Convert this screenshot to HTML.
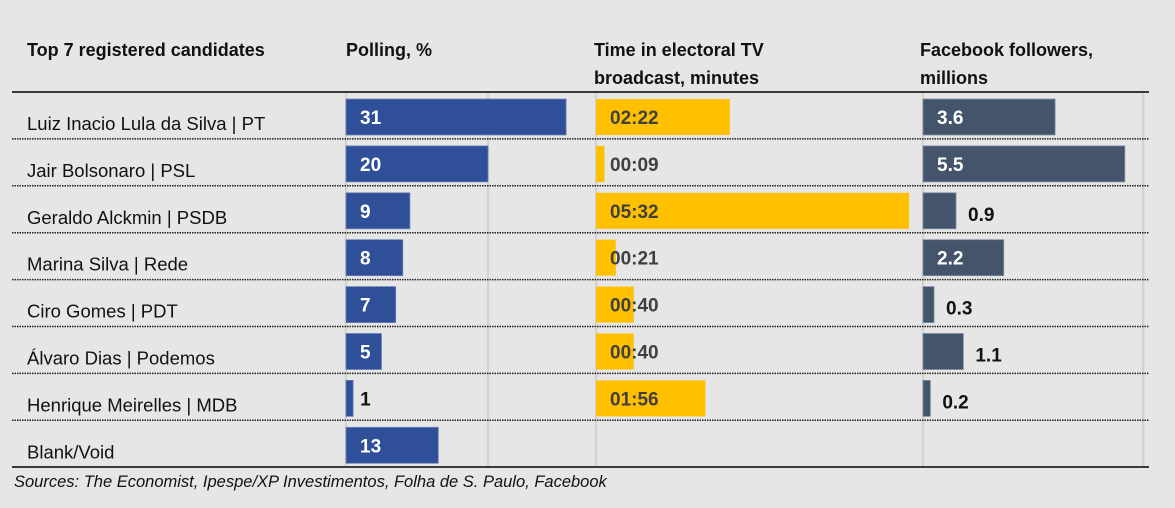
<!DOCTYPE html>
<html><head><meta charset="utf-8"><style>
html,body{margin:0;padding:0;background:#e7e6e6;}
svg{display:block;font-family:"Liberation Sans",Arial,sans-serif;}
</style></head><body>
<svg id="c" width="1175" height="508" viewBox="0 0 1175 508">
<g font-weight="bold" font-size="18" fill="#111">
<text x="27" y="56">Top 7 registered candidates</text>
<text x="346" y="56">Polling, %</text>
<text x="594" y="56">Time in electoral TV</text>
<text x="594" y="84">broadcast, minutes</text>
<text x="920" y="56">Facebook followers,</text>
<text x="920" y="84">millions</text>
</g>
<g id="grid"></g>
<g id="rows"></g>
<line x1="12" y1="92" x2="1149" y2="92" stroke="#000" stroke-width="1.5"/>
<line x1="12" y1="467" x2="1149" y2="467" stroke="#000" stroke-width="1.5"/>
<text x="14" y="487" font-size="16.5" font-style="italic" fill="#111">Sources: The Economist, Ipespe/XP Investimentos, Folha de S. Paulo, Facebook</text>
</svg>
<script>
const candidates=["Luiz Inacio Lula da Silva | PT","Jair Bolsonaro | PSL","Geraldo Alckmin | PSDB","Marina Silva | Rede","Ciro Gomes | PDT","Álvaro Dias | Podemos","Henrique Meirelles | MDB","Blank/Void"];
const polling=[31,20,9,8,7,5,1,13];
const tvSeconds=[142,9,332,21,40,40,116,null];
const facebook=[3.6,5.5,0.9,2.2,0.3,1.1,0.2,null];
const pollGridTicks=[0,20];
const tvGridTicks=[0];
const fbGridTicks=[0,6];

const NS="http://www.w3.org/2000/svg";
const rowTop=92,rowH=46.9;
const xPoll=v=>346+v*7.1;
const xTv=v=>596+v*0.943;
const xFb=v=>923+v*36.7;
function el(tag,attrs,parent,txt){const e=document.createElementNS(NS,tag);for(const k in attrs)e.setAttribute(k,attrs[k]);if(txt!=null)e.textContent=txt;parent.appendChild(e);return e;}
const grid=document.getElementById('grid'),rows=document.getElementById('rows');
[[pollGridTicks,xPoll],[tvGridTicks,xTv],[fbGridTicks,xFb]].forEach(([t,f])=>t.forEach(v=>{
 const l=el('line',{x1:f(v),x2:f(v),y1:93,y2:466,stroke:'#d4d3d3','stroke-width':2.5},grid);
 
 
}));
function fmt(s){const m=Math.floor(s/60),r=s%60;return String(m).padStart(2,'0')+':'+String(r).padStart(2,'0');}
candidates.forEach((name,i)=>{
 const y0=rowTop+i*rowH,by=y0+7,bh=36,ty=y0+32;
 const g=el('g',{},rows);
 
 
 const t=el('text',{x:27,y:y0+38,'font-size':18.5,fill:'#111'},g,name);
 
 
 if(i<candidates.length-1){
  const d=el('line',{x1:12,x2:1149,y1:y0+rowH,y2:y0+rowH,stroke:'#222','stroke-width':1.5,'stroke-dasharray':'1.5 1'},g);
  
  
 }
 // polling
 const pv=polling[i],pw=xPoll(pv)-xPoll(0);
 const pb=el('rect',{x:xPoll(0),y:by,width:pw,height:bh,fill:'#2f4f99',stroke:'#6f83b8','stroke-width':0.8},g);
 
 
 const inside=pw>30;
 const pl=el('text',{x:inside?xPoll(0)+14:xPoll(pv)+7,y:ty,'font-size':19,'font-weight':'bold',fill:inside?'#fff':'#111'},g,String(pv));
 
 
 // tv
 if(tvSeconds[i]!=null){
  const tv=tvSeconds[i];
  const tb=el('rect',{x:xTv(0),y:by,width:xTv(tv)-xTv(0),height:bh,fill:'#ffc000'},g);
  
  
  const tl=el('text',{x:xTv(0)+14,y:ty,'font-size':19,'font-weight':'bold',fill:'#404040'},g,fmt(tv));
  
  
 }
 // facebook
 if(facebook[i]!=null){
  const fv=facebook[i],fw=xFb(fv)-xFb(0);
  const fb=el('rect',{x:xFb(0),y:by,width:fw,height:bh,fill:'#44546a',stroke:'#8090a4','stroke-width':0.8},g);
  
  
  const fin=fw>50;
  const fl=el('text',{x:fin?xFb(0)+14:xFb(fv)+12,y:ty+(fin?0:3),'font-size':19,'font-weight':'bold',fill:fin?'#fff':'#111'},g,fv.toFixed(1));
  
  
 }
});
</script>
</body></html>
